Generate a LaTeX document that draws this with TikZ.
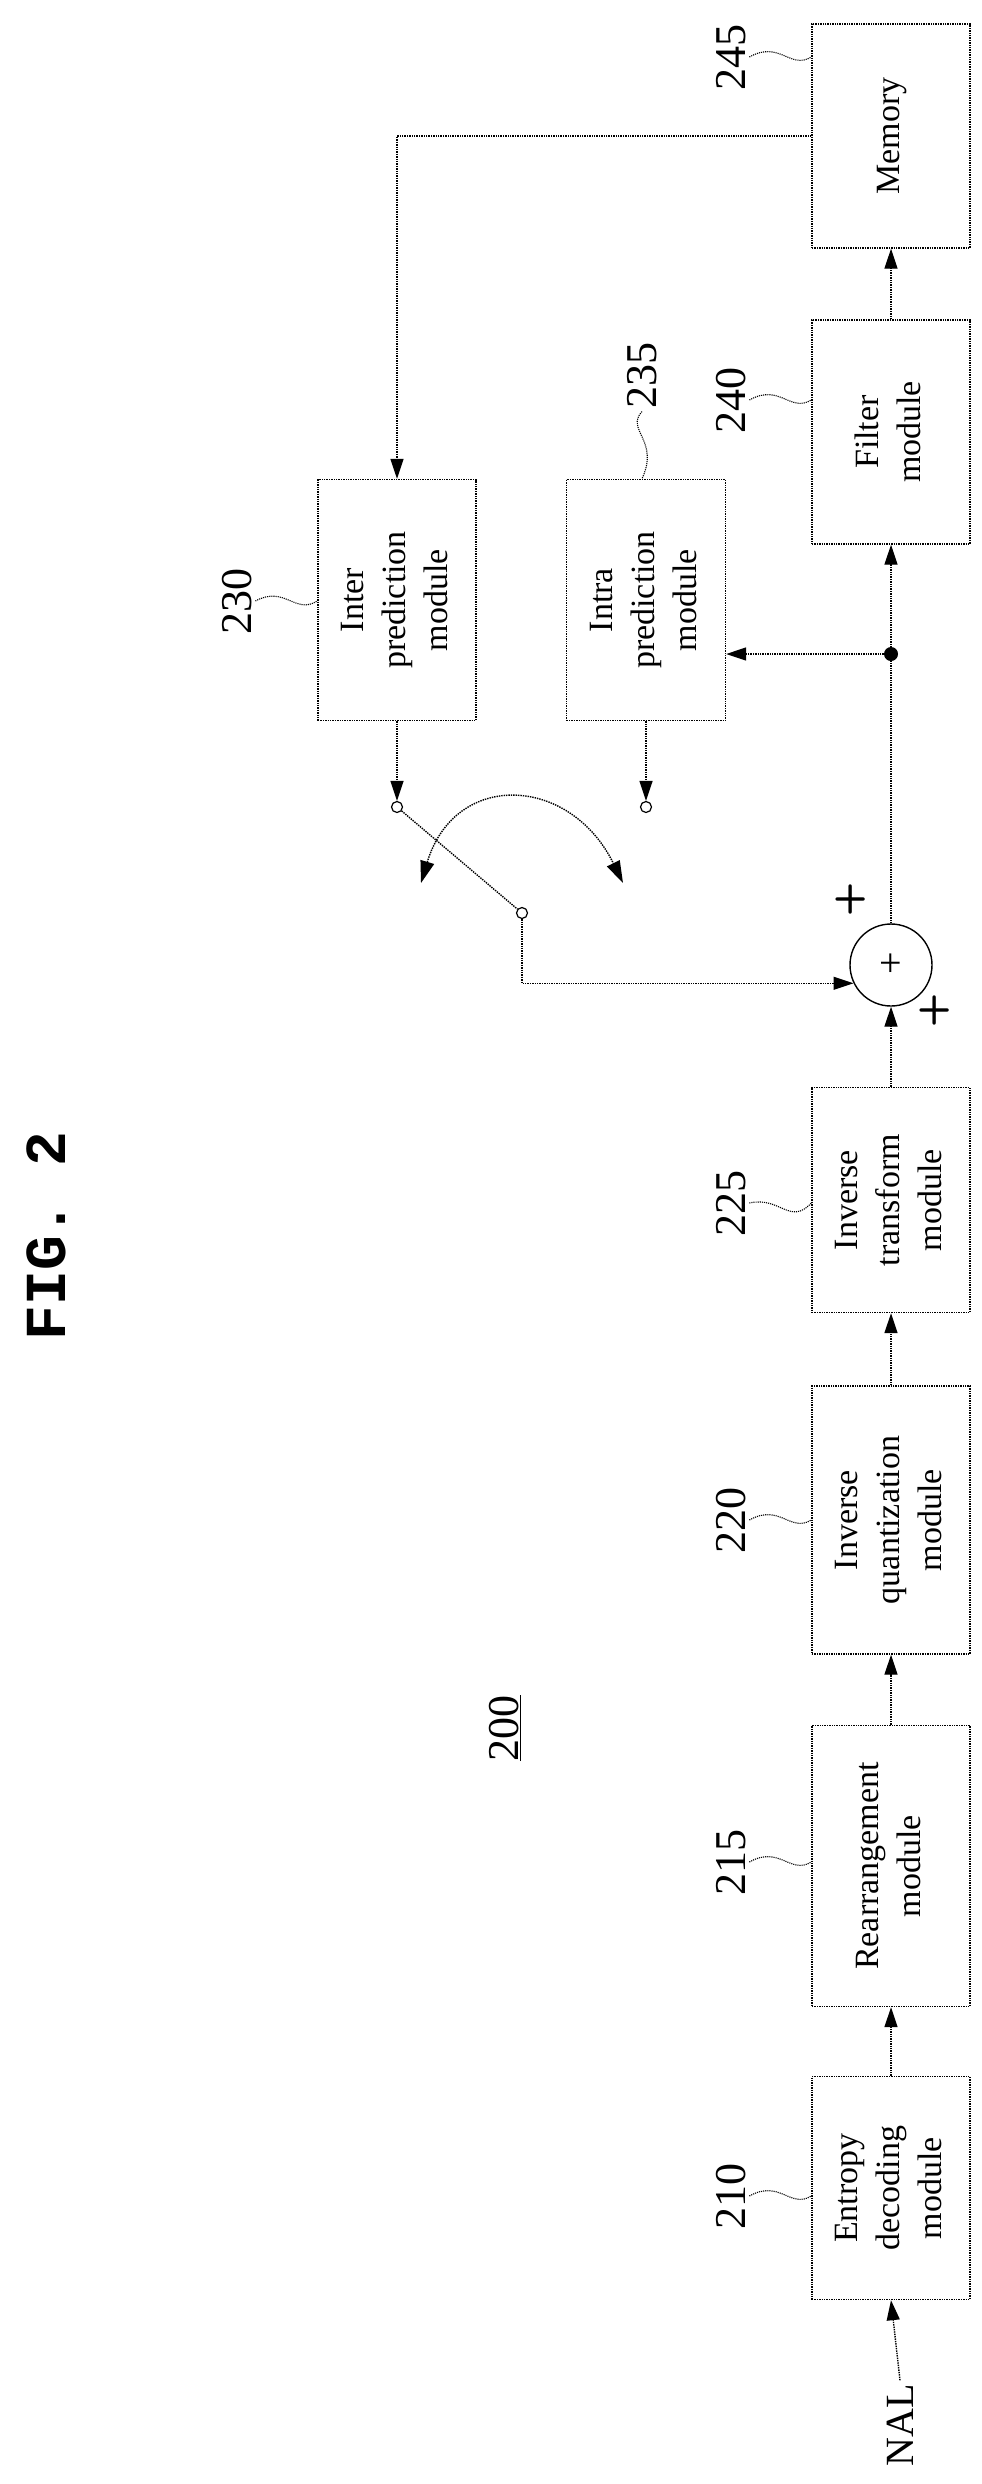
\documentclass[tikz,border=0pt]{standalone}
\usepackage{fontspec}
\setmainfont{Liberation Serif}
\newfontfamily\figfont{Liberation Mono}
\usetikzlibrary{arrows.meta}
\begin{document}
\begin{tikzpicture}[x=1pt,y=-1pt,
  ln/.style={line width=1.4pt, densely dotted},
  arr/.style={ln, -{Triangle[length=20pt,width=13pt]}},
  box/.style={draw, ln, minimum width=158pt, inner sep=0pt, align=center, font=\fontsize{34}{42}\selectfont},
  lab/.style={rotate=90, font=\fontsize{44}{50}\selectfont},
  sw/.style={circle, draw, line width=1.2pt, minimum size=11pt, inner sep=0pt},
  lead/.style={line width=1.1pt, densely dotted}]
\useasboundingbox (0,0) rectangle (982,2484);
\newcommand{\rt}[1]{\rotatebox{90}{\begin{tabular}{@{}c@{}}#1\end{tabular}}}
% boxes
\node[box, minimum height=224pt] (mem) at (891,136) {\rt{Memory}};
\node[box, minimum height=224pt] (fil) at (891,432) {\rt{Filter\\module}};
\node[box, minimum height=241pt] (inter) at (397,600) {\rt{Inter\\prediction\\module}};
\node[box, minimum height=241pt, minimum width=159pt] (intra) at (646,600) {\rt{Intra\\prediction\\module}};
\node[box, minimum height=225pt] (itr) at (891,1200) {\rt{Inverse\\transform\\module}};
\node[box, minimum height=268pt] (iq) at (891,1520) {\rt{Inverse\\quantization\\module}};
\node[box, minimum height=281pt] (rea) at (891,1866) {\rt{Rearrangement\\module}};
\node[box, minimum height=223pt] (ent) at (891,2188) {\rt{Entropy\\decoding\\module}};
\node[circle, draw, line width=1.4pt, minimum size=82pt, inner sep=0pt, font=\fontsize{40}{40}\selectfont] (add) at (891,965) {+};
\node[circle, fill, minimum size=14pt, inner sep=0pt] (dot) at (891,654) {};
\node[sw] (sa) at (397,807) {};
\node[sw] (sb) at (646,807) {};
\node[sw] (sc) at (522,913) {};
\node[rotate=90, font=\fontsize{40}{44}\selectfont] (nal) at (900,2425) {NAL};
\coordinate (mk) at (397,136);
\coordinate (ca) at (421,883);
\coordinate (cb) at (623,883);
% texts
\node[lab] (l245) at (731,57) {245};
\node[lab] (l240) at (731,400) {240};
\node[lab] (l235) at (642,375) {235};
\node[lab] (l230) at (237,601) {230};
\node[lab] (l225) at (731,1203) {225};
\node[lab] (l220) at (731,1520) {220};
\node[lab] (l215) at (731,1862) {215};
\node[lab] (l210) at (731,2196) {210};
\node[lab] (l200) at (505,1728) {\underline{200}};
\node[rotate=90, font=\figfont\bfseries\fontsize{58}{60}\selectfont] (fig) at (46,1236) {FIG. 2};
\node[font=\sffamily\bfseries\fontsize{40}{40}\selectfont] (p1) at (851,899) {+};
\node[font=\sffamily\bfseries\fontsize{40}{40}\selectfont] (p2) at (935,1010) {+};
% connectors
\draw[arr] (nal.east) -- (ent.south);
\draw[arr] (ent) -- (rea);
\draw[arr] (rea) -- (iq);
\draw[arr] (iq) -- (itr);
\draw[arr] (itr) -- (add);
\draw[arr] (add) -- (fil);
\draw[arr] (fil) -- (mem);
\draw[arr] (mem.west |- mk) -- (mk) -- (inter.north);
\draw[arr] (dot) -- (intra.east |- dot);
\draw[arr] (inter.south) -- (sa);
\draw[arr] (intra.south) -- (sb);
\draw[ln] (sa) -- (sc);
\draw[arr] (sc) |- (add.206);
\draw[ln, {Triangle[length=22pt,width=14pt]}-{Triangle[length=22pt,width=14pt]}] (ca) .. controls (455,770) and (570,775) .. (cb);
% leaders
\draw[lead] (l245.south) .. controls (780,40) and (790,70) .. (mem.west |- l245);
\draw[lead] (l240.south) .. controls (780,383) and (790,413) .. (fil.west |- l240);
\draw[lead] (l235.west) .. controls (625,430) and (660,440) .. (intra.north -| l235);
\draw[lead] (l230.south) .. controls (285,585) and (295,615) .. (inter.west |- l230);
\draw[lead] (l225.south) .. controls (780,1196) and (790,1226) .. (itr.west |- l225);
\draw[lead] (l220.south) .. controls (780,1503) and (790,1533) .. (iq.west |- l220);
\draw[lead] (l215.south) .. controls (780,1845) and (790,1875) .. (rea.west |- l215);
\draw[lead] (l210.south) .. controls (780,2179) and (790,2209) .. (ent.west |- l210);
\end{tikzpicture}
\end{document}
